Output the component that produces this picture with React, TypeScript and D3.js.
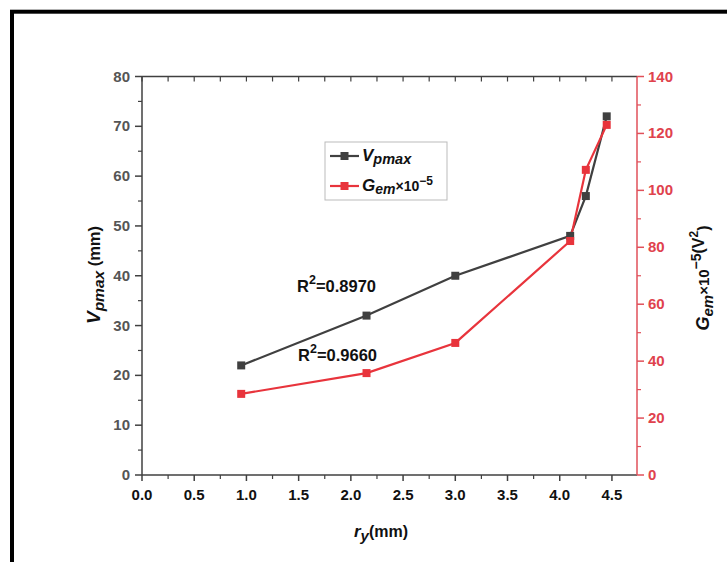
import React from 'react';
import * as d3 from 'd3';

const ryValues = [0.95, 2.15, 3.0, 4.1, 4.25, 4.45];
const vpmaxValues = [22, 32, 40, 48, 56, 72];
const gemValues = [28.5, 35.8, 46.4, 82.2, 107.2, 123];
const xTickValues = [0, 0.5, 1.0, 1.5, 2.0, 2.5, 3.0, 3.5, 4.0, 4.5];
const leftTickValues = [0, 10, 20, 30, 40, 50, 60, 70, 80];
const rightTickValues = [0, 20, 40, 60, 80, 100, 120, 140];
const r2Labels = ['0.8970', '0.9660'];

const BLACK = '#404040';
const RED = '#e8343c';
const RED_AXIS = '#e0505a';
const FONT = 'Liberation Sans, Arial, sans-serif';

export default function App() {
  const L = 142, R = 637, T = 76.5, B = 475;
  const x = d3.scaleLinear().domain([0, 4.74]).range([L, R]);
  const yL = d3.scaleLinear().domain([0, 80]).range([B, T]);
  const yR = d3.scaleLinear().domain([0, 140]).range([B, T]);

  const xMinor = d3.range(0.25, 4.74, 0.5);
  const leftMinor = d3.range(5, 80, 10);
  const rightMinor = d3.range(10, 140, 20);

  const lineBlack = d3.line<number>().x((_, i) => x(ryValues[i])).y((d) => yL(d));
  const lineRed = d3.line<number>().x((_, i) => x(ryValues[i])).y((d) => yR(d));

  const ms = 8;

  return (
    <svg width={727} height={562} style={{ position: 'absolute', left: 0, top: 0, background: '#fff' }} fontFamily={FONT}>
      <rect x={0} y={0} width={727} height={562} fill="#fff" />
      <rect x={12} y={11.7} width={740} height={600} fill="none" stroke="#000" strokeWidth={4} />

      {/* Axes lines */}
      <line x1={L} x2={R} y1={B} y2={B} stroke={BLACK} strokeWidth={1.5} />
      <line x1={L} x2={R} y1={T} y2={T} stroke={BLACK} strokeWidth={1.5} />
      <line x1={L} x2={L} y1={T} y2={B} stroke={BLACK} strokeWidth={1.5} />
      <line x1={R} x2={R} y1={T} y2={B} stroke={RED_AXIS} strokeWidth={1.5} />

      {/* Bottom ticks */}
      {xTickValues.map((v) => (
        <g key={'xb' + v}>
          <line x1={x(v)} x2={x(v)} y1={B} y2={B + 6} stroke={BLACK} strokeWidth={1.5} />
          <line x1={x(v)} x2={x(v)} y1={T} y2={T + 5} stroke={BLACK} strokeWidth={1.2} />
          <text x={x(v)} y={B + 25} textAnchor="middle" fontSize={15} fontWeight="bold" fill="#111">
            {v.toFixed(1)}
          </text>
        </g>
      ))}
      {xMinor.map((v) => (
        <g key={'xm' + v}>
          <line x1={x(v)} x2={x(v)} y1={B} y2={B + 4} stroke={BLACK} strokeWidth={1.2} />
          <line x1={x(v)} x2={x(v)} y1={T} y2={T + 5} stroke={BLACK} strokeWidth={1.2} />
        </g>
      ))}

      {/* Left ticks */}
      {leftTickValues.map((v) => (
        <g key={'yl' + v}>
          <line x1={L - 7} x2={L} y1={yL(v)} y2={yL(v)} stroke={BLACK} strokeWidth={1.5} />
          <text x={L - 12} y={yL(v) + 5} textAnchor="end" fontSize={15} fontWeight="bold" fill="#555">
            {v}
          </text>
        </g>
      ))}
      {leftMinor.map((v) => (
        <line key={'ylm' + v} x1={L - 4} x2={L} y1={yL(v)} y2={yL(v)} stroke={BLACK} strokeWidth={1.2} />
      ))}

      {/* Right ticks */}
      {rightTickValues.map((v) => (
        <g key={'yr' + v}>
          <line x1={R} x2={R + 7} y1={yR(v)} y2={yR(v)} stroke={RED_AXIS} strokeWidth={1.5} />
          <text x={R + 11} y={yR(v) + 5} textAnchor="start" fontSize={15} fontWeight="bold" fill="#e0424d">
            {v}
          </text>
        </g>
      ))}
      {rightMinor.map((v) => (
        <line key={'yrm' + v} x1={R} x2={R + 4} y1={yR(v)} y2={yR(v)} stroke={RED_AXIS} strokeWidth={1.2} />
      ))}

      {/* Series */}
      <path d={lineBlack(vpmaxValues) || ''} fill="none" stroke={BLACK} strokeWidth={2.2} />
      <path d={lineRed(gemValues) || ''} fill="none" stroke={RED} strokeWidth={2.2} />
      {vpmaxValues.map((v, i) => (
        <rect key={'mb' + i} x={x(ryValues[i]) - ms / 2} y={yL(v) - ms / 2} width={ms} height={ms} fill={BLACK} />
      ))}
      {gemValues.map((v, i) => (
        <rect key={'mr' + i} x={x(ryValues[i]) - ms / 2} y={yR(v) - ms / 2} width={ms} height={ms} fill={RED} />
      ))}

      {/* R2 labels */}
      <text x={297} y={292} fontSize={16.5} fontWeight="bold" fill="#111">
        R<tspan dy={-8} fontSize={12.5}>2</tspan><tspan dy={8}>={r2Labels[0]}</tspan>
      </text>
      <text x={298} y={361} fontSize={16.5} fontWeight="bold" fill="#111">
        R<tspan dy={-8} fontSize={12.5}>2</tspan><tspan dy={8}>={r2Labels[1]}</tspan>
      </text>

      {/* Legend */}
      <rect x={325} y={142} width={122} height={58} fill="#fff" stroke="#bbb" strokeWidth={1} />
      <line x1={330} x2={359} y1={156} y2={156} stroke={BLACK} strokeWidth={2.2} />
      <rect x={344.5 - 4} y={152} width={8} height={8} fill={BLACK} />
      <text x={362} y={161} fontSize={17} fontWeight="bold" fontStyle="italic" fill="#111">
        V<tspan fontSize={14.5} dy={3}>pmax</tspan>
      </text>
      <line x1={330} x2={359} y1={186} y2={186} stroke={RED} strokeWidth={2.2} />
      <rect x={344.5 - 4} y={182} width={8} height={8} fill={RED} />
      <text x={362} y={191} fontSize={17} fontWeight="bold" fill="#111">
        <tspan fontStyle="italic">G</tspan>
        <tspan fontStyle="italic" fontSize={14} dy={3}>em</tspan>
        <tspan fontSize={14} dy={-3}>×10</tspan>
        <tspan fontSize={12} dy={-6}>−5</tspan>
      </text>

      {/* Axis titles */}
      <text x={381} y={537} textAnchor="middle" fontSize={16} fontWeight="bold" fill="#111">
        <tspan fontStyle="italic" fontSize={17}>r</tspan>
        <tspan fontStyle="italic" dy={4} fontSize={15}>y</tspan>
        <tspan dy={-4}>(mm)</tspan>
      </text>
      <text transform="translate(100,275) rotate(-90)" textAnchor="middle" fontSize={16.5} fontWeight="bold" fill="#111">
        <tspan fontStyle="italic" fontSize={19}>V</tspan>
        <tspan fontStyle="italic" fontSize={15.5} dy={4}>pmax</tspan>
        <tspan dy={-4}> (mm)</tspan>
      </text>
      <text transform="translate(709,278) rotate(-90)" textAnchor="middle" fontSize={16} fontWeight="bold" fill="#111">
        <tspan fontStyle="italic" fontSize={18}>G</tspan>
        <tspan fontStyle="italic" fontSize={15} dy={4}>em</tspan>
        <tspan fontSize={15} dy={-4}>×10</tspan>
        <tspan fontSize={14} dy={-8}>−5</tspan>
        <tspan dy={3}>(V</tspan>
        <tspan fontSize={12} dy={-6}>2</tspan>
        <tspan dy={11}>)</tspan>
      </text>
    </svg>
  );
}
